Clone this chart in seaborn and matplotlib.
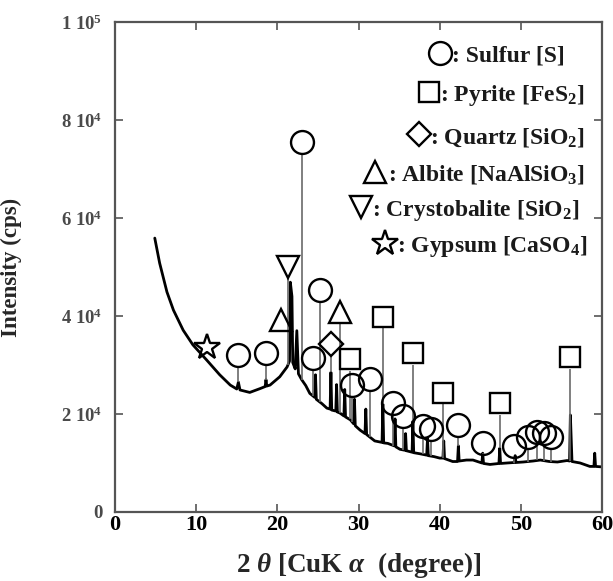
import numpy as np
import pandas as pd
import seaborn as sns
import matplotlib.pyplot as plt

# XRD pattern: 2theta (degree) / intensity (cps)
two_theta = [4.9, 5.5, 6.4, 7.2, 8.4, 9.6, 11.3, 12.9, 14.2, 15.0, 15.2, 15.4,
             16.6, 17.9, 18.5, 18.6, 18.7, 19.1, 20.3, 21.2, 21.5, 21.6, 21.8, 21.9,
             22.2, 22.4, 22.6, 23.0, 23.5, 24.0, 24.6, 24.7, 24.8, 25.5, 26.1, 26.5,
             26.6, 26.7, 27.2, 27.3, 27.4, 27.7, 28.2, 28.3, 28.4, 29.0, 29.4, 29.5,
             29.6, 30.2, 30.8, 30.9, 31.0, 32.0, 32.9, 33.0, 33.1, 33.6, 34.4, 34.5,
             34.6, 35.1, 35.7, 35.8, 35.9, 36.6, 36.7, 36.8, 37.5, 38.4, 38.5, 38.6,
             39.3, 40.0, 40.4, 40.5, 40.6, 41.6, 42.2, 42.3, 42.4, 43.3, 44.1, 45.2,
             45.3, 45.4, 46.2, 47.3, 47.4, 47.5, 48.3, 49.2, 49.3, 49.4, 50.3, 51.5,
             52.4, 53.5, 54.5, 55.7, 56.0, 56.1, 56.3, 57.3, 58.5, 59.0, 59.1, 59.2,
             60.0]
intensity = [55900, 50800, 44900, 41200, 37100, 34100, 31000, 28000, 25900, 25100, 26500, 24900,
             24400, 25200, 25600, 27000, 25700, 25900, 27600, 29600, 30800, 46900, 44000, 30500,
             29200, 37000, 28200, 27000, 25800, 24200, 23400, 28000, 23000, 22100, 21200, 21000,
             28500, 20800, 20600, 26000, 20400, 20200, 19600, 25000, 19400, 18800, 18000, 23000,
             17600, 16700, 16000, 21000, 15800, 14500, 14200, 22000, 14100, 14000, 13500, 19000,
             13300, 12800, 12600, 16000, 12500, 12200, 18500, 12100, 11900, 11600, 15000, 11500,
             11300, 11000, 11000, 14500, 10900, 10300, 10300, 13500, 10400, 10600, 10600, 10000,
             12000, 9900, 9700, 9900, 13000, 9900, 10000, 10100, 11500, 10100, 10200, 10400,
             10600, 10300, 10200, 10500, 10400, 19800, 10300, 10000, 9300, 9300, 12000, 9300,
             9200]

# peak markers (position, marker height)
sulfur_x = [15.2, 18.6, 23.0, 24.4, 25.3, 29.2, 31.4, 34.3, 35.5, 37.9, 38.9,
            42.3, 45.3, 49.1, 50.9, 52.0, 52.9, 53.7]
sulfur_y = [32000, 32500, 75500, 31400, 45300, 26000, 27200, 22200, 19600, 17600, 16900,
            17700, 14100, 13500, 15300, 16300, 16100, 15300]
pyrite_x = [28.9, 33.0, 36.7, 40.4, 47.4, 56.0]
pyrite_y = [31200, 39800, 32400, 24300, 22200, 31600]
quartz_x = [26.6]
quartz_y = [34300]
albite_x = [20.4, 27.7]
albite_y = [39200, 40800]
cristobalite_x = [21.3]
cristobalite_y = [50000]
gypsum_x = [11.3]
gypsum_y = [33700]

x_ticks = [0, 10, 20, 30, 40, 50, 60]
y_ticks = [0, 20000, 40000, 60000, 80000, 100000]
y_tick_labels = ["0", "2 10$^4$", "4 10$^4$", "6 10$^4$", "8 10$^4$", "1 10$^5$"]

legend_labels = [": Sulfur [S]", ": Pyrite [FeS$_2$]", ": Quartz [SiO$_2$]",
                 ": Albite [NaAlSiO$_3$]", ": Crystobalite [SiO$_2$]", ": Gypsum [CaSO$_4$]"]

sns.set_theme(style="ticks")
plt.rcParams["font.family"] = ["Liberation Serif", "DejaVu Sans"]
plt.rcParams["font.weight"] = "bold"
plt.rcParams["mathtext.fontset"] = "custom"
plt.rcParams["mathtext.rm"] = "Liberation Serif:bold"
plt.rcParams["mathtext.it"] = "Liberation Serif:italic:bold"
plt.rcParams["mathtext.bf"] = "Liberation Serif:bold"
plt.rcParams["mathtext.default"] = "regular"

fig = plt.figure(figsize=(6.13, 5.81), dpi=100)
ax = fig.add_axes([0.1876, 0.1188, 0.7945, 0.8433])

df = pd.DataFrame({"two_theta": two_theta, "intensity": intensity})
sns.lineplot(data=df, x="two_theta", y="intensity", sort=False, estimator=None,
             color="black", lw=2.0, ax=ax)

ax.set_xlim(0, 60)
ax.set_ylim(0, 100000)

# gray sticks from each marker down to the pattern
ms = 16.5
px_per_unit = 0.8433 * 581 / 100000
gap = (ms / 2) * 100 / 72 / px_per_unit
stick_x = sulfur_x + pyrite_x + quartz_x + albite_x[1:] + cristobalite_x
stick_top = sulfur_y + pyrite_y + quartz_y + albite_y[1:] + cristobalite_y
stick_bottom = np.interp(stick_x, two_theta, intensity)
ax.vlines(stick_x, stick_bottom, np.array(stick_top) - gap, color="#6a6a6a", lw=1.2, zorder=2)

phases = [
    (sulfur_x, sulfur_y, "o", ms),
    (pyrite_x, pyrite_y, "s", 14),
    (quartz_x, quartz_y, "D", 12),
    (albite_x, albite_y, "^", 16),
    (cristobalite_x, cristobalite_y, "v", 16),
    (gypsum_x, gypsum_y, "*", 19),
]
for px, py, mk, size in phases:
    ax.plot(px, py, ls="none", marker=mk, ms=size, mfc="none", mec="black", mew=1.7, zorder=3)

ax.set_xticks(x_ticks)
ax.set_yticks(y_ticks)
ax.set_yticklabels(y_tick_labels)
ax.tick_params(direction="in", top=True, right=True, length=6, width=1.2, color="#555555")
ax.tick_params(axis="x", labelsize=16, pad=2, labelcolor="black")
ax.tick_params(axis="y", labelsize=13.5, pad=9, labelcolor="#4a4a4a")
for s in ax.spines.values():
    s.set_color("#555555")
    s.set_linewidth(1.6)

ax.set_xlabel(r"2 $\mathit{\theta}$ [CuK $\mathit{\alpha}$  (degree)]", fontsize=19.5, fontweight="bold")
ax.set_ylabel("Intensity (cps)", fontsize=16.5, fontweight="bold")
ax.xaxis.set_label_coords(0.5, -0.078)
ax.yaxis.set_label_coords(-0.19, 0.5)

# legend built by hand: marker then text (axes fractions)
legend_marker_x = [0.667, 0.645, 0.624, 0.534, 0.505, 0.554]
legend_text_x = [0.692, 0.667, 0.647, 0.561, 0.528, 0.579]
legend_y = [0.937, 0.857, 0.771, 0.694, 0.622, 0.549]
for lab, (px, py, mk, size), mx, tx, yy in zip(legend_labels, phases, legend_marker_x,
                                               legend_text_x, legend_y):
    ax.plot([mx], [yy], transform=ax.transAxes, ls="none", marker=mk, ms=size,
            mfc="none", mec="black", mew=1.7, clip_on=False)
    ax.text(tx, yy - 0.018, lab, transform=ax.transAxes, ha="left", va="baseline",
            fontsize=17, fontweight="bold", color="#1a1a1a")

fig.savefig("out.png", dpi=100)
